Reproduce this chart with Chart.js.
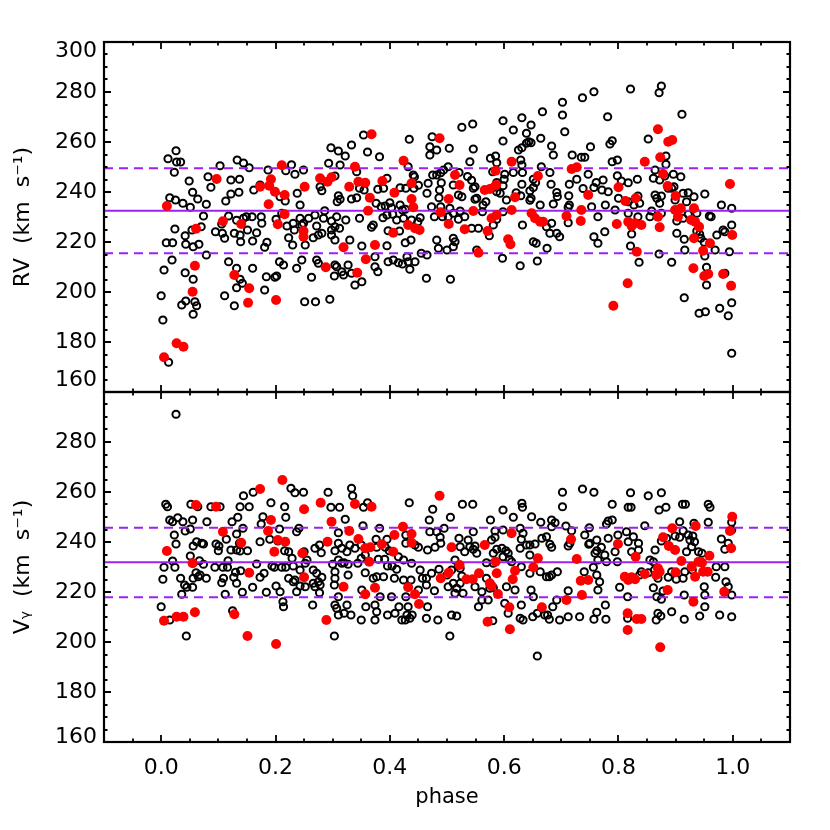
<!DOCTYPE html>
<html><head><meta charset="utf-8">
<script src="https://cdn.jsdelivr.net/npm/chart.js@4.4.1/dist/chart.umd.min.js"></script>
<style>
html,body{margin:0;padding:0;background:#fff;}
#wrap{position:relative;width:830px;height:830px;background:#fff;overflow:hidden;}
#c1{position:absolute;left:0;top:0;width:830px;height:400px;}
#c2{position:absolute;left:0;top:382px;width:830px;height:448px;}
</style></head><body>
<div id="wrap"><canvas id="c1" width="830" height="400"></canvas><canvas id="c2" width="830" height="448"></canvas></div>
<script>
// ---------- axis ranges and tick labels ----------
const xMin = -0.1, xMax = 1.1;
const yMin = 160, yMax = 300;
const xTickValues = [0.0, 0.2, 0.4, 0.6, 0.8, 1.0];
const yTickValuesTop = [160, 180, 200, 220, 240, 260, 280, 300];
const yTickValuesBottom = [160, 180, 200, 220, 240, 260, 280];
const xTitle = 'phase';
const yTitleTop = 'RV  (km  s\u207B\u00B9)';
const yTitleBottom = 'V\u1D67  (km  s\u207B\u00B9)';

// ---------- reference lines ----------
const rvLines = [232.5, 249.5, 215.5];   // mean, upper, lower
const vgLines = [231.9, 245.7, 217.9];

// ---------- RV panel: [phase, RV] ----------
const rvBlack = [
[0.026,256.5],[0.012,253.3],[0.027,252],[0.034,252],[0.023,247.9],[0.103,250.5],[0.133,252.8],[0.144,251.6],[0.154,249.7],[0.049,244.4],
[0.082,246.1],[0.087,241.9],[0.122,244.8],[0.137,245.1],[0.187,248.8],[0.218,248.5],[0.228,250.9],[0.234,247.1],[0.055,239.9],[0.064,237.2],
[0.015,237.7],[0.025,236.8],[0.038,235.5],[0.051,233.9],[0.079,235.1],[0.113,236.4],[0.122,239.2],[0.136,239.9],[0.162,240.8],[0.173,242.8],
[0.208,238.1],[0.217,236.4],[0.238,239.5],[0.074,230.4],[0.070,226.1],[0.024,225.2],[0.042,222.5],[0.054,224.8],[0.009,219.7],[0.020,219.7],
[0.043,219.1],[0.056,218.1],[0.066,219.1],[0.118,230.4],[0.106,227.2],[0.095,224.1],[0.107,223.5],[0.111,221.5],[0.128,223.5],[0.138,222.8],
[0.139,220.1],[0.132,228.7],[0.144,229.5],[0.149,230.1],[0.159,230.1],[0.151,224.8],[0.167,223.7],[0.176,227.5],[0.175,230.1],[0.160,220.4],
[0.181,217.9],[0.185,219.9],[0.201,229.1],[0.211,231.5],[0.220,226.4],[0.231,227.5],[0.223,221.7],[0.230,218.8],[0.233,224.8],[0.079,214.8],
[0.019,212.8],[0.005,208.8],[0.042,207.7],[0.056,205.1],[0.118,212.1],[0.132,209.5],[0.138,205.1],[0.132,201.7],[0.142,203.5],[0.160,209.5],
[0.207,212.1],[0.214,210.8],[0.202,206.4],[0.199,205.9],[0.184,206.1],[0.237,209.5],[0.181,200.8],[0.111,198.5],[0.128,194.5],[0.000,198.5],
[0.043,196.4],[0.036,194.8],[0.059,196.1],[0.062,194.5],[0.056,191.1],[0.003,188.8],[0.013,171.9],
[0.354,262.8],[0.333,258.8],[0.297,257.7],[0.310,256.4],[0.322,254.4],[0.361,256.0],[0.382,254.1],[0.434,261.1],[0.474,262.1],[0.470,258.1],
[0.482,256.8],[0.470,254.8],[0.504,257.5],[0.293,251.5],[0.313,250.8],[0.249,248.8],[0.342,248.1],[0.432,250.1],[0.443,246.1],[0.450,242.7],
[0.475,246.8],[0.482,246.8],[0.489,247.7],[0.494,248.8],[0.502,250.1],[0.490,243.7],[0.487,240.8],[0.486,237.7],[0.511,242.8],[0.467,243.5],
[0.465,239.5],[0.243,234.8],[0.278,242.1],[0.281,240.5],[0.304,246.4],[0.347,241.5],[0.355,240.8],[0.379,241.1],[0.389,241.5],[0.395,245.5],
[0.418,241.7],[0.428,241.5],[0.441,246.8],[0.442,241.5],[0.310,238.5],[0.313,237.1],[0.308,236.1],[0.333,237.2],[0.342,237.7],[0.376,235.5],
[0.385,234.1],[0.392,234.4],[0.400,235.7],[0.418,234.8],[0.427,233.1],[0.403,233.7],[0.473,234.1],[0.489,234.1],[0.505,233.5],[0.243,229.5],
[0.249,227.5],[0.258,229.5],[0.269,230.8],[0.272,226.4],[0.286,232.5],[0.284,229.5],[0.298,228.4],[0.307,230.1],[0.323,228.8],[0.312,225.5],
[0.304,226.1],[0.298,224.8],[0.347,229.5],[0.371,226.8],[0.368,225.9],[0.388,229.7],[0.395,230.8],[0.405,231.1],[0.412,228.8],[0.424,229.5],
[0.422,232.8],[0.438,228.8],[0.453,229.7],[0.449,228.1],[0.397,224.5],[0.417,224.4],[0.478,230.1],[0.492,230.1],[0.502,230.1],[0.511,231.5],
[0.246,226.8],[0.266,221.7],[0.275,222.8],[0.281,223.5],[0.298,222.8],[0.304,220.8],[0.330,220.8],[0.351,218.4],[0.395,218.5],[0.427,219.7],
[0.437,220.8],[0.482,220.8],[0.485,217.5],[0.500,216.8],[0.511,221.5],[0.511,218.1],[0.252,218.8],[0.246,212.8],[0.263,205.9],[0.272,212.8],
[0.275,211.5],[0.304,210.8],[0.307,210.1],[0.303,206.4],[0.316,208.1],[0.327,210.8],[0.333,207.5],[0.319,206.8],[0.339,202.8],[0.351,204.1],
[0.374,214.1],[0.374,210.1],[0.379,208.1],[0.397,212.1],[0.406,212.8],[0.415,211.7],[0.422,211.2],[0.430,214.1],[0.435,209.1],[0.432,212.1],
[0.444,212.1],[0.455,215.5],[0.465,214.8],[0.464,205.5],[0.506,205.1],[0.251,196.1],[0.270,196.1],[0.295,197.1],
[0.757,280.1],[0.737,277.7],[0.702,275.9],[0.702,270.8],[0.706,264.1],[0.667,272.1],[0.631,269.7],[0.647,266.8],[0.616,264.8],[0.598,268.5],
[0.598,260.4],[0.545,267.2],[0.526,265.9],[0.639,263.5],[0.643,260.1],[0.639,259.5],[0.647,259.7],[0.631,257.7],[0.625,256.8],[0.664,261.5],
[0.683,258.4],[0.686,254.8],[0.719,254.8],[0.735,253.9],[0.741,253.9],[0.751,258.1],[0.546,257.2],[0.540,252.1],[0.576,253.5],[0.585,254.4],
[0.587,251.7],[0.629,252.8],[0.631,250.8],[0.665,250.1],[0.521,247.8],[0.536,246.2],[0.543,244.7],[0.580,248.1],[0.601,247.1],[0.616,247.8],
[0.632,247.8],[0.680,247.8],[0.747,247.1],[0.761,243.8],[0.757,241.8],[0.738,241.4],[0.727,245.1],[0.714,243.1],[0.682,243.1],[0.692,239.8],
[0.693,238.2],[0.713,238.5],[0.631,243.1],[0.651,245.1],[0.655,243.8],[0.645,240.5],[0.651,241.8],[0.629,238.5],[0.645,236.7],[0.600,245.1],
[0.598,242.5],[0.587,243.8],[0.581,241.8],[0.549,242.1],[0.546,241.5],[0.520,238.8],[0.526,238.1],[0.552,237.5],[0.563,234.8],[0.568,236.1],
[0.587,240.1],[0.593,239.5],[0.604,236.8],[0.621,239.7],[0.647,237.5],[0.663,234.8],[0.686,235.2],[0.712,233.9],[0.714,234.8],[0.753,234.1],
[0.764,230.1],[0.523,232.4],[0.531,230.1],[0.520,229.1],[0.543,225.5],[0.555,225.5],[0.549,237.1],[0.562,232.1],[0.574,222.5],[0.581,226.8],
[0.587,229.1],[0.598,232.1],[0.632,226.8],[0.651,220.1],[0.656,219.5],[0.674,226.1],[0.680,223.5],[0.683,227.5],[0.692,223.5],[0.697,222.1],
[0.712,227.7],[0.757,222.1],[0.764,219.5],[0.514,220.1],[0.552,216.8],[0.597,213.5],[0.628,210.5],[0.658,212.4],[0.675,217.5],
[0.875,282.4],[0.871,279.7],[0.821,281.2],[0.911,271.1],[0.781,270.1],[0.852,261.2],[0.785,259.2],[0.789,260.5],[0.789,252.1],[0.798,252.8],
[0.883,254.4],[0.883,251.1],[0.864,248.8],[0.861,245.5],[0.872,244.8],[0.881,246.4],[0.896,247.1],[0.909,246.1],[0.897,242.1],[0.893,241.5],
[0.798,246.5],[0.805,244.4],[0.817,243.7],[0.833,245.1],[0.773,244.8],[0.782,240.1],[0.771,240.8],[0.800,237.5],[0.817,236.1],[0.834,238.4],
[0.827,234.8],[0.837,235.5],[0.864,238.8],[0.867,237.5],[0.872,235.5],[0.875,238.4],[0.887,241.5],[0.899,236.8],[0.913,239.5],[0.922,239.7],
[0.932,238.1],[0.951,239.2],[0.919,236.1],[0.777,234.8],[0.794,232.8],[0.817,231.5],[0.834,230.1],[0.855,230.1],[0.858,232.4],[0.875,231.5],
[0.902,228.4],[0.913,229.5],[0.922,231.1],[0.937,231.5],[0.959,230.4],[0.962,230.1],[0.980,234.8],[0.998,233.5],[0.998,226.8],[0.776,224.1],
[0.823,223.2],[0.821,218.4],[0.836,211.9],[0.902,223.5],[0.915,221.1],[0.916,216.8],[0.893,211.9],[0.871,215.2],[0.937,224.4],[0.942,223.1],
[0.944,221.5],[0.950,219.9],[0.969,216.8],[0.972,222.8],[0.983,224.8],[0.986,224.1],[0.951,214.4],[0.994,216.1],[0.954,209.9],[0.954,202.8],
[0.986,207.5],[0.915,197.7],[0.941,191.5],[0.952,192.1],[0.977,193.5],[0.992,190.5],[0.998,195.7],[0.998,175.5]
];
const rvRed = [
[0.010,234.4],[0.097,245.2],[0.061,225.3],[0.108,228.3],[0.140,227.2],[0.059,210.5],[0.055,200.1],[0.128,206.8],[0.154,201.5],[0.152,195.7],
[0.027,179.5],[0.039,178.1],[0.005,173.9],[0.211,250.7],[0.173,242.1],[0.192,245.1],[0.189,242.5],[0.199,240.1],[0.188,235.1],[0.216,238.8],
[0.216,231.1],[0.204,227.1],[0.201,196.8],
[0.368,263.1],[0.487,261.5],[0.424,252.5],[0.339,250.1],[0.251,242.1],[0.278,245.5],[0.291,244.1],[0.298,245.9],[0.329,242.1],[0.345,244.1],
[0.357,243.7],[0.387,244.4],[0.408,239.7],[0.438,243.5],[0.365,237.7],[0.438,237.2],[0.441,233.9],[0.362,232.5],[0.503,237.2],[0.489,231.9],
[0.249,224.4],[0.249,222.1],[0.432,226.8],[0.444,225.5],[0.452,224.8],[0.406,223.7],[0.503,227.2],[0.319,217.9],[0.374,218.8],[0.358,213.1],
[0.288,209.9],[0.343,207.7],[0.514,246.8],
[0.613,252.1],[0.585,248.5],[0.659,246.4],[0.718,249.2],[0.727,249.9],[0.522,242.8],[0.566,240.8],[0.575,241.2],[0.586,242.8],[0.619,237.9],
[0.747,238.8],[0.546,232.4],[0.587,230.8],[0.578,229.5],[0.613,232.8],[0.648,231.5],[0.654,229.5],[0.663,228.1],[0.668,228.1],[0.709,230.4],
[0.735,232.8],[0.734,228.4],[0.531,225.1],[0.571,224.4],[0.607,221.1],[0.611,219.1],[0.555,215.7],
[0.869,265.1],[0.887,260.1],[0.894,260.8],[0.846,252.1],[0.873,253.9],[0.878,247.2],[0.886,242.4],[0.900,238.4],[0.800,241.9],[0.812,236.4],
[0.830,237.5],[0.899,232.8],[0.909,233.5],[0.904,230.1],[0.869,230.1],[0.932,233.5],[0.927,228.8],[0.934,228.1],[0.941,226.1],[0.932,221.5],
[0.960,219.5],[0.948,216.5],[0.797,227.2],[0.817,228.1],[0.823,226.4],[0.829,227.5],[0.840,226.8],[0.872,225.9],[0.832,216.1],[0.931,209.5],
[0.950,206.4],[0.957,207.2],[0.983,207.2],[0.997,202.5],[0.816,203.5],[0.791,194.5],[0.995,243.2],[0.999,222.8]
];

// ---------- V_gamma panel: [phase, V_gamma] ----------
const vgBlack = [
[0.008,255.1],[0.011,254.1],[0.052,255.1],[0.064,254.1],[0.087,254.1],[0.103,254.1],[0.015,248.8],[0.020,248.1],[0.029,249.7],[0.038,248.1],
[0.055,248.8],[0.080,248.1],[0.042,244.4],[0.051,245.2],[0.023,242.8],[0.026,239.2],[0.056,238.4],[0.062,240.1],[0.071,239.5],[0.074,239.2],
[0.096,239.2],[0.101,238.4],[0.100,236.5],[0.114,241.1],[0.051,234.4],[0.020,232.4],[0.005,229.9],[0.024,229.9],[0.067,232.5],[0.074,231.1],
[0.061,227.7],[0.056,225.5],[0.065,226.1],[0.068,226.8],[0.079,225.5],[0.034,225.5],[0.041,222.8],[0.045,221.9],[0.055,221.9],[0.036,219.1],
[0.003,225.1],[0.094,229.9],[0.108,229.9],[0.116,229.9],[0.117,232.5],[0.109,225.5],[0.106,223.7],[0.112,219.1],[0.122,236.8],[0.132,236.8],
[0.138,236.4],[0.151,236.5],[0.137,239.5],[0.132,243.2],[0.124,248.1],[0.134,249.9],[0.143,245.5],[0.138,254.1],[0.154,254.1],[0.144,258.5],
[0.161,259.9],[0.130,227.9],[0.139,228.5],[0.127,225.9],[0.132,223.5],[0.142,219.9],[0.160,221.9],[0.167,231.2],[0.173,225.9],[0.180,227.5],
[0.173,240.1],[0.175,247.2],[0.178,250.1],[0.192,255.7],[0.216,254.1],[0.218,249.9],[0.207,245.2],[0.190,241.1],[0.204,240.4],[0.216,236.5],
[0.223,236.1],[0.229,233.5],[0.231,230.4],[0.237,244.1],[0.194,230.4],[0.198,229.9],[0.211,229.9],[0.218,229.9],[0.223,225.5],[0.231,224.1],
[0.201,222.4],[0.184,219.9],[0.208,220.1],[0.213,216.1],[0.214,214.1],[0.237,220.1],[0.227,261.5],[0.234,259.7],[0.000,214.1],[0.015,208.8],
[0.044,202.4],[0.125,212.5],[0.026,291.1],
[0.249,259.9],[0.292,259.9],[0.333,261.5],[0.335,258.5],[0.297,253.9],[0.312,253.9],[0.354,253.9],[0.361,255.7],[0.434,255.7],[0.475,253.1],
[0.469,248.8],[0.506,249.9],[0.322,249.1],[0.241,245.5],[0.310,243.7],[0.353,246.5],[0.382,245.5],[0.376,241.1],[0.377,237.9],[0.392,237.9],
[0.399,236.5],[0.395,241.1],[0.428,239.5],[0.428,242.8],[0.444,238.8],[0.450,237.9],[0.470,244.1],[0.482,244.1],[0.488,241.9],[0.489,239.5],
[0.495,245.5],[0.479,237.9],[0.466,236.8],[0.269,237.5],[0.277,238.8],[0.280,235.7],[0.304,236.5],[0.316,237.5],[0.310,239.5],[0.325,236.1],
[0.330,238.8],[0.339,237.5],[0.350,238.8],[0.357,234.8],[0.350,233.5],[0.344,231.5],[0.327,231.1],[0.316,231.5],[0.310,232.8],[0.300,231.1],
[0.255,232.8],[0.250,236.1],[0.252,231.5],[0.243,228.8],[0.266,228.8],[0.272,227.5],[0.281,225.9],[0.275,224.1],[0.266,223.5],[0.278,222.8],
[0.269,222.1],[0.252,222.1],[0.243,222.4],[0.234,224.8],[0.304,228.1],[0.304,225.5],[0.303,222.8],[0.320,231.7],[0.327,226.8],[0.357,227.7],
[0.371,225.5],[0.377,226.1],[0.389,226.1],[0.380,233.1],[0.391,233.1],[0.396,230.4],[0.404,230.4],[0.412,229.1],[0.415,234.1],[0.424,232.8],
[0.438,231.5],[0.453,228.8],[0.457,225.5],[0.464,225.5],[0.473,227.5],[0.486,229.1],[0.500,226.8],[0.508,228.8],[0.408,225.5],[0.424,224.8],
[0.437,224.8],[0.450,220.8],[0.464,222.8],[0.478,220.5],[0.502,222.1],[0.265,214.8],[0.277,219.7],[0.304,214.8],[0.307,213.5],[0.310,218.1],
[0.325,214.8],[0.351,220.8],[0.310,210.8],[0.320,211.5],[0.332,210.8],[0.350,208.8],[0.358,214.1],[0.374,214.8],[0.377,212.1],[0.374,208.8],
[0.383,218.1],[0.396,210.8],[0.409,211.5],[0.403,218.1],[0.416,214.1],[0.428,218.1],[0.432,214.1],[0.430,210.8],[0.421,208.8],[0.427,208.8],
[0.435,209.5],[0.439,210.8],[0.466,214.1],[0.464,209.5],[0.484,208.8],[0.508,210.8],[0.505,202.4],[0.303,202.4],
[0.527,255.1],[0.545,255.1],[0.598,252.8],[0.576,248.8],[0.616,249.9],[0.631,255.5],[0.632,253.9],[0.648,250.1],[0.664,247.9],[0.683,248.8],
[0.689,247.7],[0.702,259.9],[0.702,254.1],[0.737,261.2],[0.757,259.9],[0.708,246.4],[0.718,244.5],[0.741,242.8],[0.749,245.7],[0.750,239.5],
[0.762,240.8],[0.546,244.1],[0.521,241.5],[0.537,240.8],[0.540,238.1],[0.549,238.4],[0.546,237.1],[0.552,235.5],[0.531,236.1],[0.523,238.1],
[0.578,240.8],[0.584,241.9],[0.587,237.1],[0.596,237.5],[0.603,236.5],[0.607,235.5],[0.598,234.1],[0.609,233.1],[0.581,235.5],[0.598,244.8],
[0.584,244.4],[0.628,245.5],[0.633,243.5],[0.630,241.1],[0.628,237.5],[0.639,238.8],[0.645,238.8],[0.654,239.2],[0.645,234.8],[0.666,241.5],
[0.674,242.1],[0.683,237.9],[0.680,239.1],[0.683,246.1],[0.712,238.4],[0.715,239.5],[0.748,239.1],[0.759,235.5],[0.762,236.5],[0.764,232.8],
[0.756,229.9],[0.740,228.1],[0.762,226.8],[0.569,231.7],[0.581,231.5],[0.613,232.1],[0.630,230.1],[0.645,227.5],[0.663,228.1],[0.674,226.1],
[0.679,226.1],[0.683,226.8],[0.693,228.1],[0.514,232.8],[0.520,230.8],[0.523,229.5],[0.526,226.4],[0.517,221.5],[0.514,219.5],[0.528,219.5],
[0.523,223.5],[0.511,223.5],[0.549,222.1],[0.561,220.1],[0.569,225.5],[0.575,221.5],[0.561,216.8],[0.572,216.8],[0.555,214.1],[0.581,221.7],
[0.604,222.1],[0.619,220.8],[0.647,220.8],[0.651,218.1],[0.601,215.5],[0.607,211.5],[0.630,214.8],[0.628,209.5],[0.633,208.8],[0.650,210.1],
[0.658,211.5],[0.671,210.8],[0.676,210.8],[0.679,209.1],[0.685,214.1],[0.692,216.8],[0.697,208.8],[0.712,210.1],[0.712,220.5],[0.732,210.1],
[0.757,209.1],[0.764,220.8],[0.762,211.9],[0.517,210.4],[0.658,194.4],[0.580,208.5],
[0.821,259.7],[0.852,258.5],[0.875,259.7],[0.789,255.1],[0.817,253.9],[0.822,253.9],[0.871,252.8],[0.883,253.9],[0.912,255.1],[0.917,255.1],
[0.957,255.1],[0.960,253.9],[0.782,248.4],[0.789,248.8],[0.779,247.2],[0.846,246.5],[0.907,248.1],[0.932,247.5],[0.957,247.9],[0.998,247.9],
[0.998,244.8],[0.782,241.5],[0.799,242.8],[0.814,244.1],[0.826,242.1],[0.817,240.1],[0.835,239.5],[0.835,236.8],[0.823,236.1],[0.770,237.9],
[0.776,234.8],[0.794,236.1],[0.798,232.1],[0.779,232.1],[0.864,236.8],[0.875,240.4],[0.884,241.5],[0.899,242.4],[0.907,241.9],[0.913,244.5],
[0.922,242.8],[0.925,240.8],[0.930,242.4],[0.933,240.1],[0.928,238.1],[0.940,236.1],[0.946,235.5],[0.919,236.1],[0.980,241.2],[0.992,239.5],
[0.986,237.1],[0.855,232.8],[0.861,232.1],[0.863,228.8],[0.852,227.7],[0.840,228.1],[0.837,226.8],[0.869,225.5],[0.887,225.9],[0.893,228.1],
[0.901,225.1],[0.913,225.5],[0.916,228.1],[0.929,228.8],[0.971,230.1],[0.986,230.1],[0.970,225.9],[0.988,224.1],[0.992,222.1],[0.998,218.8],
[0.767,224.1],[0.802,221.9],[0.861,221.7],[0.878,220.4],[0.867,218.1],[0.875,217.1],[0.915,218.8],[0.950,222.1],[0.951,218.8],[0.951,214.1],
[0.777,214.8],[0.778,209.1],[0.816,218.1],[0.816,209.5],[0.869,211.5],[0.874,210.4],[0.866,208.8],[0.893,212.1],[0.915,209.1],[0.942,210.4],
[0.977,210.8],[0.998,210.1]
];
const vgRed = [
[0.010,236.4],[0.005,208.5],[0.027,210.1],[0.039,210.1],[0.059,211.9],[0.055,231.5],[0.061,254.8],[0.096,254.1],[0.108,244.1],[0.140,239.7],
[0.154,227.7],[0.128,211.1],[0.151,202.4],[0.173,261.2],[0.212,264.8],[0.192,248.8],[0.187,244.4],[0.204,240.8],[0.217,240.1],[0.198,236.1],
[0.201,199.2],
[0.250,253.1],[0.279,255.7],[0.339,255.2],[0.368,254.1],[0.487,258.5],[0.298,248.1],[0.329,244.4],[0.291,240.1],[0.345,241.2],[0.357,237.5],
[0.366,237.9],[0.386,239.1],[0.408,242.8],[0.423,246.1],[0.438,243.2],[0.438,239.7],[0.406,236.1],[0.247,235.5],[0.364,232.1],[0.508,237.9],
[0.250,225.9],[0.319,222.1],[0.374,221.7],[0.357,219.1],[0.432,221.9],[0.444,219.1],[0.451,215.2],[0.489,225.5],[0.503,227.7],[0.289,208.8],
[0.566,238.8],[0.613,243.5],[0.585,232.1],[0.522,230.8],[0.534,225.1],[0.545,225.1],[0.556,227.5],[0.575,223.5],[0.578,222.4],[0.587,227.5],
[0.619,228.5],[0.615,225.1],[0.589,219.2],[0.609,213.9],[0.571,208.1],[0.610,205.1],[0.659,233.5],[0.651,229.9],[0.666,213.9],[0.709,216.8],
[0.717,241.1],[0.727,233.2],[0.734,224.5],[0.747,224.8],[0.736,218.8],
[0.999,250.1],[0.995,244.4],[0.997,237.5],[0.935,246.4],[0.894,245.5],[0.878,241.9],[0.888,238.4],[0.899,236.8],[0.799,239.2],[0.830,234.1],
[0.910,232.4],[0.928,230.1],[0.940,232.1],[0.946,231.7],[0.959,234.5],[0.948,228.1],[0.956,228.1],[0.934,226.1],[0.869,229.5],[0.872,228.1],
[0.866,226.8],[0.900,227.9],[0.846,227.2],[0.811,226.1],[0.817,224.8],[0.823,225.9],[0.829,225.1],[0.886,220.8],[0.985,220.1],[0.931,216.1],
[0.816,211.5],[0.832,209.2],[0.840,209.2],[0.816,204.8],[0.873,197.9]
];

// ---------- styling ----------
const FONT = 'DejaVu Sans';
const PURPLE = '#a020f0';
Chart.defaults.font.family = FONT;
Chart.defaults.color = '#000';

function pts(arr) { return arr.map(p => ({ x: p[0], y: p[1] })); }
function hline(v) { return [{ x: xMin, y: v }, { x: xMax, y: v }]; }

function makeDatasets(black, red, lines) {
  return [
    { data: pts(red), pointRadius: 5, pointHoverRadius: 5, backgroundColor: '#ff0000', borderColor: '#ff0000', borderWidth: 0, order: 0 },
    { data: hline(lines[0]), showLine: true, borderColor: PURPLE, borderWidth: 2, pointRadius: 0, order: 1 },
    { data: hline(lines[1]), showLine: true, borderColor: PURPLE, borderWidth: 2, borderDash: [9, 6], pointRadius: 0, order: 1 },
    { data: hline(lines[2]), showLine: true, borderColor: PURPLE, borderWidth: 2, borderDash: [9, 6], pointRadius: 0, order: 1 },
    { data: pts(black), pointRadius: 3.6, pointHoverRadius: 3.6, backgroundColor: 'rgba(0,0,0,0)', borderColor: '#000', borderWidth: 2, order: 2 }
  ];
}

// inward ticks on all four sides, frame box, y tick labels
const axisDecor = {
  id: 'axisDecor',
  afterDraw(chart, args, o) {
    const ctx = chart.ctx, a = chart.chartArea;
    const xs = chart.scales.x, ys = chart.scales.y;
    ctx.save();
    ctx.strokeStyle = '#000';
    ctx.lineWidth = 1.8;
    ctx.beginPath();
    for (let i = -1; i <= 21; i++) {
      const v = Math.round(i * 5) / 100;
      const major = xTickValues.some(t => Math.abs(t - v) < 1e-6);
      const L = major ? 7 : 3.5;
      const px = Math.round(xs.getPixelForValue(v));
      ctx.moveTo(px, a.bottom); ctx.lineTo(px, a.bottom - L);
      ctx.moveTo(px, a.top); ctx.lineTo(px, a.top + L);
    }
    for (let v = yMin + 5; v < yMax; v += 5) {
      const L = (v % 20 === 0) ? 7 : 3.5;
      const py = Math.round(ys.getPixelForValue(v));
      ctx.moveTo(a.left, py); ctx.lineTo(a.left + L, py);
      ctx.moveTo(a.right, py); ctx.lineTo(a.right - L, py);
    }
    ctx.stroke();
    ctx.lineWidth = 2.2;
    ctx.strokeRect(a.left, a.top, a.right - a.left, a.bottom - a.top);
    ctx.fillStyle = '#000';
    ctx.font = '22px "' + FONT + '"';
    ctx.textAlign = 'right';
    ctx.textBaseline = 'middle';
    o.labels.forEach(v => {
      let py = ys.getPixelForValue(v);
      if (v === yMax) py += o.topShift;
      if (v === yMin) py += o.bottomShift;
      ctx.fillText(String(v), a.left - 7, py);
    });
    ctx.restore();
  }
};

function makeChart(id, black, red, lines, yTitle, labels, showX, padding, shifts) {
  return new Chart(document.getElementById(id), {
    type: 'scatter',
    data: { datasets: makeDatasets(black, red, lines) },
    options: {
      responsive: false,
      animation: false,
      events: [],
      devicePixelRatio: 1,
      layout: { padding: padding },
      plugins: {
        legend: { display: false },
        tooltip: { enabled: false },
        axisDecor: { labels: labels, topShift: shifts[0], bottomShift: shifts[1] }
      },
      scales: {
        x: {
          type: 'linear', min: xMin, max: xMax,
          display: showX,
          grid: { display: false, drawTicks: false },
          border: { display: false },
          afterBuildTicks: s => { s.ticks = xTickValues.map(v => ({ value: v })); },
          afterFit: s => { if (showX) s.height = 88; },
          ticks: { callback: v => Number(v).toFixed(1), font: { size: 22, family: FONT }, color: '#000', padding: 13, maxRotation: 0, autoSkip: false },
          title: { display: showX, text: xTitle, font: { size: 21, family: FONT }, color: '#000', padding: { top: 0, bottom: 20 } }
        },
        y: {
          type: 'linear', min: yMin, max: yMax,
          grid: { display: false, drawTicks: false },
          border: { display: false },
          afterBuildTicks: s => { s.ticks = labels.map(v => ({ value: v })); },
          afterFit: s => { s.width = 104; },
          ticks: { display: false },
          title: { display: true, text: yTitle, font: { size: 22, family: FONT }, color: '#000', padding: { top: 10, bottom: 0 } }
        }
      }
    },
    plugins: [axisDecor]
  });
}

makeChart('c1', rvBlack, rvRed, rvLines, yTitleTop, yTickValuesTop, false, { left: 0, right: 40, top: 42, bottom: 8 }, [9.7, -12]);
makeChart('c2', vgBlack, vgRed, vgLines, yTitleBottom, yTickValuesBottom, true, { left: 0, right: 40, top: 10, bottom: 0 }, [0, -5]);
</script>
</body></html>
